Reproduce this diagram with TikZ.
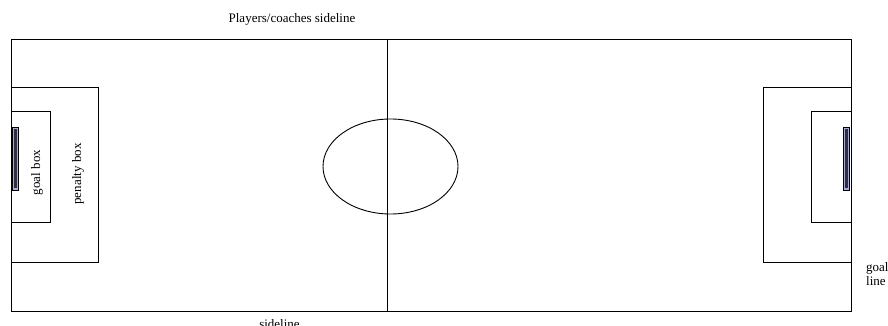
\documentclass[tikz,border=0pt]{standalone}
\usepackage{fontspec}
\setmainfont{Liberation Serif}
\begin{document}
\begin{tikzpicture}[x=1pt,y=-1pt,
  fieldline/.style={draw=black,line width=0.9pt},
  goalframe/.style={draw=black,line width=0.7pt,fill={rgb,255:red,170;green,170;blue,215}},
  goalcore/.style={fill={rgb,255:red,45;green,45;blue,70}},
  lbl/.style={font=\fontsize{13}{14}\selectfont,inner sep=0pt}]
\useasboundingbox (0,0) rectangle (888,326);
% field
\draw[fieldline] (11,39) rectangle (851,311);
\coordinate (midtop) at (387,39);
\coordinate (midbot) at (387,311);
\draw[fieldline] (midtop) -- (midbot);
\draw[fieldline] (390.5,166.5) ellipse [x radius=67.5, y radius=47.5];
% left
\draw[fieldline] (11,87) rectangle (98,262);
\draw[fieldline] (11,111) rectangle (50,222);
\draw[goalframe] (12.5,127) rectangle (18.3,190);
\fill[goalcore] (14.2,129) rectangle (16.6,188);
% right
\draw[fieldline] (851,87) rectangle (763,262);
\draw[fieldline] (851,111) rectangle (811,222);
\draw[goalframe] (843.3,127) rectangle (849.5,190);
\fill[goalcore] (845,129) rectangle (847.8,188);
% labels
\node[lbl,anchor=base] (top) at (292,22.5) {Players/coaches sideline};
\node[lbl,anchor=base] (bot) at (279.5,328.5) {sideline};
\node[lbl,rotate=90] (gb) at (37,172.5) {goal box};
\node[lbl,rotate=90] (pb) at (78,174) {penalty box};
\node[lbl,anchor=base west] (gl1) at (866,271) {goal};
\node[lbl,anchor=base west] (gl2) at (866,285) {line};
\end{tikzpicture}
\end{document}
